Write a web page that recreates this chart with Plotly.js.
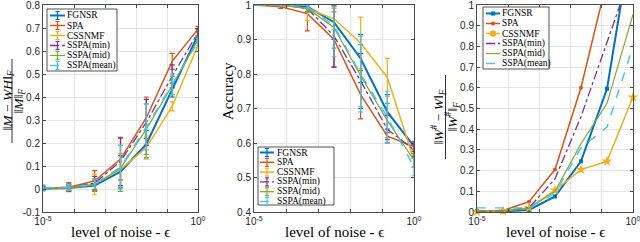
<!DOCTYPE html>
<html><head><meta charset="utf-8">
<script src="https://cdn.plot.ly/plotly-3.0.1.min.js"></script>
<style>html,body{margin:0;padding:0;background:#fff}#chart{width:640px;height:242px}</style>
</head><body><div id="chart"></div>
<script>
// ---------- data ----------
const noise = [1e-5, 6.81e-5, 4.64e-4, 3.16e-3, 2.15e-2, 1.47e-1, 1];
const methods = ['FGNSR', 'SPA', 'CSSNMF', 'SSPA(min)', 'SSPA(mid)', 'SSPA(mean)'];

// panel 1: relative residual ||M-WH||/||M||
const resFGNSR = [0.001, 0.004, 0.015, 0.075, 0.195, 0.43, 0.67];
const resSPA   = [0.003, 0.008, 0.035, 0.13, 0.31, 0.555, 0.695];
const resCSS   = [0.002, 0.005, 0.02, 0.085, 0.18, 0.36, 0.625];
const resMin   = [0.003, 0.006, 0.025, 0.12, 0.29, 0.49, 0.68];
const resMid   = [0.003, 0.006, 0.02, 0.09, 0.26, 0.45, 0.65];
const resMean  = [0.006, 0.007, 0.02, 0.095, 0.27, 0.455, 0.64];
const resErrFGNSR = [0.008, 0.01, 0.02, 0.07, 0.06, 0.03, 0.015];
const resErrSPA   = [0.008, 0.02, 0.045, 0.09, 0.09, 0.035, 0.012];
const resErrCSS   = [0.006, 0.015, 0.045, 0.07, 0.05, 0.02, 0.01];
const resErrMin   = [0.008, 0.015, 0.03, 0.105, 0.1, 0.05, 0.015];
const resErrMid   = [0.01, 0.012, 0.025, 0.1, 0.11, 0.04, 0.015];
const resErrMean  = [0.012, 0.012, 0.02, 0.095, 0.1, 0.045, 0.015];

// panel 2: accuracy
const accFGNSR = [1, 1, 0.995, 0.95, 0.845, 0.69, 0.59];
const accSPA   = [1, 0.995, 0.975, 0.9, 0.74, 0.62, 0.59];
const accCSS   = [1, 1, 0.99, 0.96, 0.89, 0.79, 0.55];
const accMin   = [1, 1, 0.99, 0.91, 0.78, 0.64, 0.58];
const accMid   = [1, 1, 0.99, 0.935, 0.795, 0.665, 0.55];
const accMean  = [1, 1, 0.995, 0.94, 0.8, 0.675, 0.53];
const accErrFGNSR = [0, 0.002, 0.005, 0.05, 0.07, 0.05, 0.015];
const accErrSPA   = [0, 0.005, 0.05, 0.08, 0.07, 0.01, 0.01];
const accErrCSS   = [0, 0.002, 0.035, 0.03, 0.075, 0.055, 0.02];
const accErrMin   = [0, 0.002, 0.01, 0.09, 0.08, 0.04, 0.02];
const accErrMid   = [0, 0.002, 0.01, 0.06, 0.09, 0.05, 0.02];
const accErrMean  = [0, 0.002, 0.005, 0.09, 0.11, 0.075, 0.025];

// panel 3: relative error on W
const wFGNSR = [0.003, 0.003, 0.01, 0.075, 0.245, 0.595, 1.36];
const wSPA   = [0.005, 0.007, 0.05, 0.205, 0.6, 1.12, 1.5];
const wCSS   = [0.002, 0.005, 0.02, 0.105, 0.205, 0.245, 0.555];
const wMin   = [0.003, 0.006, 0.02, 0.16, 0.46, 0.82, 1.18];
const wMid   = [0.004, 0.006, 0.018, 0.1, 0.33, 0.525, 0.955];
const wMean  = [0.02, 0.02, 0.02, 0.09, 0.31, 0.41, 0.8];

const xTickVals = [1e-5, 1];
const xTickText = ['10<sup>-5</sup>', '10<sup>0</sup>'];
const xMinorVals = [1e-4, 1e-3, 1e-2, 1e-1];
const y1Ticks = [-0.1, 0, 0.1, 0.2, 0.3, 0.4, 0.5, 0.6, 0.7, 0.8];
const y1Text  = ['-0.1', '0', '0.1', '0.2', '0.3', '0.4', '0.5', '0.6', '0.7', '0.8'];
const y2Ticks = [0.4, 0.5, 0.6, 0.7, 0.8, 0.9, 1];
const y2Text  = ['0.4', '0.5', '0.6', '0.7', '0.8', '0.9', '1'];
const y3Ticks = [0, 0.1, 0.2, 0.3, 0.4, 0.5, 0.6, 0.7, 0.8, 0.9, 1];
const y3Text  = ['0', '0.1', '0.2', '0.3', '0.4', '0.5', '0.6', '0.7', '0.8', '0.9', '1'];

// ---------- styles ----------
const colors = ['#0072BD', '#D95319', '#EDB120', '#7E2F8E', '#77AC30', '#4DBEEE'];
const dashes = ['solid', 'solid', 'solid', 'dashdot', 'solid', 'dash'];
const widths = [2, 1.5, 1.5, 1.3, 1.2, 1.4];
const markers3 = ['square', 'circle', 'star', null, null, null];
const markerSizes3 = [4, 4, 8, 0, 0, 0];

const panel1 = [resFGNSR, resSPA, resCSS, resMin, resMid, resMean];
const panel1Err = [resErrFGNSR, resErrSPA, resErrCSS, resErrMin, resErrMid, resErrMean];
const panel2 = [accFGNSR, accSPA, accCSS, accMin, accMid, accMean];
const panel2Err = [accErrFGNSR, accErrSPA, accErrCSS, accErrMin, accErrMid, accErrMean];
const panel3 = [wFGNSR, wSPA, wCSS, wMin, wMid, wMean];

const traces = [];
methods.forEach((m, i) => {
  traces.push({x: noise, y: panel1[i], xaxis: 'x', yaxis: 'y', type: 'scatter', mode: 'lines', name: m,
    showlegend: false, line: {color: colors[i], width: widths[i], dash: dashes[i]},
    error_y: {type: 'data', array: panel1Err[i], visible: true, color: colors[i], thickness: 1.2, width: 2.5}});
});
methods.forEach((m, i) => {
  traces.push({x: noise, y: panel2[i], xaxis: 'x2', yaxis: 'y2', type: 'scatter', mode: 'lines', name: m,
    showlegend: false, line: {color: colors[i], width: widths[i], dash: dashes[i]},
    error_y: {type: 'data', array: panel2Err[i], visible: true, color: colors[i], thickness: 1.2, width: 2.5}});
});
methods.forEach((m, i) => {
  const t = {x: noise, y: panel3[i], xaxis: 'x3', yaxis: 'y3', type: 'scatter', name: m,
    showlegend: false, line: {color: colors[i], width: widths[i], dash: dashes[i]}, cliponaxis: false,
    mode: markers3[i] ? 'lines+markers' : 'lines'};
  if (markers3[i]) t.marker = {symbol: markers3[i], size: markerSizes3[i], color: colors[i]};
  traces.push(t);
});

// ---------- layout ----------
const W = 640, H = 242;
const px = v => v / W;
const py = v => 1 - v / H;
const axisCol = '#4a4a4a';
const gridCol = '#e4e4e4';
const tickFont = {family: 'Liberation Sans', size: 10, color: '#262626'};
const serif = 'Liberation Serif';

function xAx(d, anchor) {
  return {type: 'log', domain: d, anchor: anchor, range: [-5, 0], tickmode: 'array', tickvals: xTickVals, ticktext: xTickText,
    showgrid: true, gridcolor: gridCol, gridwidth: 1, ticks: 'inside', ticklen: 3, tickcolor: axisCol,
    minor: {tickmode: 'array', tickvals: xMinorVals, showgrid: true, gridcolor: gridCol, gridwidth: 1, ticks: 'inside', ticklen: 3, tickcolor: axisCol},
    showline: true, linecolor: axisCol, linewidth: 1, mirror: 'ticks', zeroline: false,
    tickfont: tickFont, ticklabeloverflow: 'allow', fixedrange: true};
}
function yAx(anchor, r, tv, tt) {
  return {anchor: anchor, domain: [30 / H, 237 / H], range: r, tickmode: 'array', tickvals: tv, ticktext: tt,
    showgrid: true, gridcolor: gridCol, gridwidth: 1, ticks: 'inside', ticklen: 3, tickcolor: axisCol,
    showline: true, linecolor: axisCol, linewidth: 1, mirror: 'ticks', zeroline: false,
    tickfont: tickFont, ticklabeloverflow: 'allow', fixedrange: true};
}

const shapes = [];
const annotations = [];

// axis titles
['x', 'x2', 'x3'].forEach(a => {
  annotations.push({xref: a + ' domain', yref: 'paper', x: 0.5, y: py(232), xanchor: 'center', yanchor: 'middle',
    text: 'level of noise - ϵ', showarrow: false, font: {family: serif, size: 15, color: '#000'}});
});
annotations.push({xref: 'paper', yref: 'paper', x: px(228), y: py(91), textangle: -90, showarrow: false,
  text: 'Accuracy', font: {family: serif, size: 15, color: '#000'}, xanchor: 'center', yanchor: 'middle'});

function fraction(xNum, xBar, xDen, yc, half, num, den) {
  annotations.push({xref: 'paper', yref: 'paper', x: px(xNum), y: py(yc), textangle: -90, showarrow: false,
    text: num, font: {family: serif, size: 13.5, color: '#000'}, xanchor: 'center', yanchor: 'middle', borderpad: 0});
  annotations.push({xref: 'paper', yref: 'paper', x: px(xDen), y: py(yc), textangle: -90, showarrow: false,
    text: den, font: {family: serif, size: 13.5, color: '#000'}, xanchor: 'center', yanchor: 'middle', borderpad: 0});
  shapes.push({type: 'line', xref: 'paper', yref: 'paper', x0: px(xBar), x1: px(xBar),
    y0: py(yc - half), y1: py(yc + half), line: {color: '#000', width: 0.8}});
}
fraction(7.5, 12, 18.5, 101, 42, '‖<i>M</i> − <i>WH</i>‖<sub><i>F</i></sub>', '‖<i>M</i>‖<sub><i>F</i></sub>');
fraction(438.5, 445.5, 452.5, 117, 42, '‖<i>W</i><sup>#</sup> − <i>W</i>‖<sub><i>F</i></sub>', '‖<i>W</i><sup>#</sup>‖<sub><i>F</i></sub>');

// legends (drawn as shapes + text)
function legend(box, row0, rowStep, s0, s1, tx, kind) {
  shapes.push({type: 'rect', xref: 'paper', yref: 'paper', x0: px(box[0]), x1: px(box[1]),
    y0: py(box[2]), y1: py(box[3]), fillcolor: '#fff', line: {color: '#262626', width: 0.8}});
  methods.forEach((m, i) => {
    const yy = row0 + i * rowStep;
    shapes.push({type: 'line', xref: 'paper', yref: 'paper', x0: px(s0), x1: px(s1), y0: py(yy), y1: py(yy),
      line: {color: colors[i], width: widths[i], dash: dashes[i]}});
    const xm = (s0 + s1) / 2;
    if (kind === 'err') {
      shapes.push({type: 'line', xref: 'paper', yref: 'paper', x0: px(xm), x1: px(xm), y0: py(yy - 4), y1: py(yy + 4),
        line: {color: colors[i], width: 1.2}});
      [yy - 4, yy + 4].forEach(c => shapes.push({type: 'line', xref: 'paper', yref: 'paper', x0: px(xm - 2), x1: px(xm + 2),
        y0: py(c), y1: py(c), line: {color: colors[i], width: 1.2}}));
    } else if (markers3[i]) {
      const r = markers3[i] === 'star' ? 3 : 1.8;
      shapes.push({type: markers3[i] === 'square' ? 'rect' : 'circle', xref: 'paper', yref: 'paper',
        x0: px(xm - r), x1: px(xm + r), y0: py(yy - r), y1: py(yy + r), fillcolor: colors[i], line: {color: colors[i], width: 0.5}});
    }
    annotations.push({xref: 'paper', yref: 'paper', x: px(tx), y: py(yy), xanchor: 'left', yanchor: 'middle',
      text: m, showarrow: false, font: {family: serif, size: 9.5, color: '#000'}, borderpad: 0});
  });
}
legend([47, 117, 9, 71], 15.5, 10, 50, 65, 66, 'err');
legend([258, 334, 147, 205], 152.5, 9.8, 260, 274, 275.5, 'err');
legend([483, 549, 7, 69], 13.5, 10, 486, 500, 500.5, 'mark');

const layout = {
  width: W, height: H, margin: {l: 0, r: 0, t: 0, b: 0, pad: 0},
  paper_bgcolor: '#fff', plot_bgcolor: '#fff', showlegend: false,
  xaxis: xAx([43 / W, 198 / W], 'y'), yaxis: yAx('x', [-0.1, 0.8], y1Ticks, y1Text),
  xaxis2: xAx([254 / W, 414 / W], 'y2'), yaxis2: yAx('x2', [0.4, 1], y2Ticks, y2Text),
  xaxis3: xAx([477 / W, 633 / W], 'y3'), yaxis3: yAx('x3', [0, 1], y3Ticks, y3Text),
  shapes: shapes, annotations: annotations
};

Plotly.newPlot('chart', traces, layout, {displayModeBar: false, staticPlot: true});
</script></body></html>
